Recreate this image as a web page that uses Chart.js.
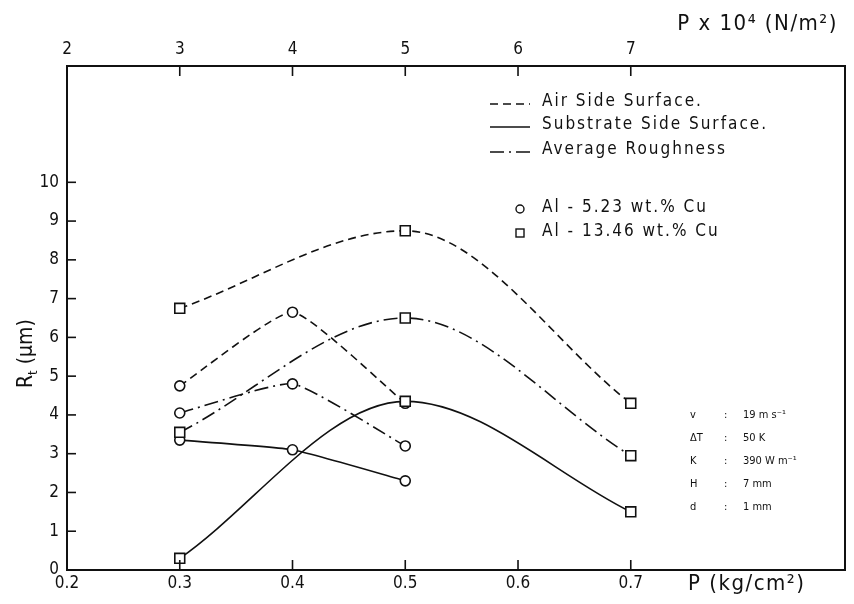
<!DOCTYPE html>
<html>
<head>
<meta charset="utf-8">
<script src="https://cdn.jsdelivr.net/npm/chart.js@4.4.1/dist/chart.umd.min.js"></script>
<style>
  html, body { margin: 0; padding: 0; background: #fff; }
  #wrap { width: 854px; height: 604px; }
</style>
</head>
<body>
<div id="wrap"><canvas id="chart" width="854" height="604"></canvas></div>
<script>
// pressure in kg/cm2
const circleP = [0.3, 0.4, 0.5]
const squareP = [0.3, 0.5, 0.7]

// Al - 5.23 wt.% Cu (circles)
const airCircle = [4.75, 6.65, 4.3]
const subCircle = [3.35, 3.1, 2.3]
const avgCircle = [4.05, 4.8, 3.2]

// Al - 13.46 wt.% Cu (squares)
const airSquare = [6.75, 8.75, 4.3]
const subSquare = [0.3, 4.35, 1.5]
const avgSquare = [3.55, 6.5, 2.95]

const bottomTicks = [0.2, 0.3, 0.4, 0.5, 0.6, 0.7]
const topTicks = [2, 3, 4, 5, 6, 7]
const yTicks = [0, 1, 2, 3, 4, 5, 6, 7, 8, 9, 10]

const legendLines = ["Air Side Surface.", "Substrate Side Surface.", "Average Roughness"]
const legendAlloys = ["Al - 5.23 wt.% Cu", "Al - 13.46 wt.% Cu"]
const params = [["v", "19 m s\u207B\u00B9"], ["\u0394T", "50 K"], ["K", "390 W m\u207B\u00B9"], ["H", "7 mm"], ["d", "1 mm"]]

const FONT = "'DejaVu Sans Condensed', 'DejaVu Sans', sans-serif"
const DASH = [8, 5]
const DASHDOT = [14, 5, 2, 5]

function pts(xs, ys) {
  return xs.map((x, i) => ({ x: x, y: ys[i] }))
}

function series(label, xs, ys, dash, style) {
  const s = {
    label: label,
    data: pts(xs, ys),
    borderColor: "#111",
    borderWidth: 1.6,
    borderDash: dash,
    pointStyle: style,
    pointRadius: style === "rect" ? 7 : 5,
    pointBackgroundColor: "#fff",
    pointBorderColor: "#111",
    pointBorderWidth: 1.6,
    fill: false
  }
  if (style === "rect") s.cubicInterpolationMode = "monotone"
  else s.tension = 0.15
  return s
}

// inward ticks, frame, legend and titles
const decor = {
  id: "decor",
  afterDraw(c) {
    const ctx = c.ctx
    const a = c.chartArea
    const x = c.scales.x
    const y = c.scales.y
    ctx.save()
    ctx.strokeStyle = "#111"
    ctx.fillStyle = "#111"
    ctx.lineWidth = 2
    ctx.setLineDash([])
    ctx.strokeRect(a.left, a.top, a.right - a.left, a.bottom - a.top)

    ctx.lineWidth = 1.6
    yTicks.forEach(v => {
      const py = y.getPixelForValue(v)
      ctx.beginPath(); ctx.moveTo(a.left, py); ctx.lineTo(a.left + 9, py); ctx.stroke()
    })
    bottomTicks.forEach(v => {
      const px = x.getPixelForValue(v)
      ctx.beginPath(); ctx.moveTo(px, a.bottom); ctx.lineTo(px, a.bottom - 10); ctx.stroke()
    })
    bottomTicks.forEach(v => {
      const px = x.getPixelForValue(v)
      ctx.beginPath(); ctx.moveTo(px, a.top); ctx.lineTo(px, a.top + 10); ctx.stroke()
    })

    // axis titles
    ctx.textBaseline = "middle"
    ctx.font = "22px " + FONT
    ctx.letterSpacing = "1.5px"
    ctx.textAlign = "left"
    ctx.fillText("P (kg/cm\u00B2)", 688, 584)
    ctx.textAlign = "right"
    ctx.fillText("P x 10\u2074 (N/m\u00B2)", 838, 24)
    ctx.letterSpacing = "0px"

    ctx.save()
    ctx.translate(27, 340)
    ctx.rotate(-Math.PI / 2)
    ctx.textAlign = "left"
    ctx.font = "21px " + FONT
    ctx.fillText("R", -48, 0)
    let w = ctx.measureText("R").width
    ctx.font = "13px " + FONT
    ctx.fillText("t", -48 + w, 7)
    let w2 = ctx.measureText("t").width
    ctx.font = "21px " + FONT
    ctx.fillText(" (\u03BCm)", -48 + w + w2, 0)
    ctx.restore()

    // legend
    ctx.textAlign = "left"
    ctx.font = "17px " + FONT
    ctx.letterSpacing = "2px"
    const rows = [102, 125, 150]
    const dashes = [DASH, [], DASHDOT]
    rows.forEach((ry, i) => {
      ctx.setLineDash(dashes[i])
      ctx.beginPath(); ctx.moveTo(490, ry + 2); ctx.lineTo(530, ry + 2); ctx.stroke()
      ctx.setLineDash([])
      ctx.fillText(legendLines[i], 542, ry)
    })
    ctx.lineWidth = 1.4
    ctx.beginPath(); ctx.arc(520, 209, 4, 0, Math.PI * 2); ctx.stroke()
    ctx.strokeRect(516, 229, 8, 8)
    ctx.fillText(legendAlloys[0], 542, 208)
    ctx.fillText(legendAlloys[1], 542, 232)

    // parameters
    ctx.letterSpacing = "0px"
    ctx.font = "11px " + FONT
    params.forEach((p, i) => {
      const py = 415 + i * 23
      ctx.fillText(p[0], 690, py)
      ctx.fillText(":", 724, py)
      ctx.fillText(p[1], 743, py)
    })
    ctx.restore()
  }
}

new Chart(document.querySelector("#chart").getContext("2d"), {
  type: "line",
  data: {
    datasets: [
      series("Air Side Surface (Al-13.46)", squareP, airSquare, DASH, "rect"),
      series("Average Roughness (Al-13.46)", squareP, avgSquare, DASHDOT, "rect"),
      series("Substrate Side Surface (Al-13.46)", squareP, subSquare, [], "rect"),
      series("Air Side Surface (Al-5.23)", circleP, airCircle, DASH, "circle"),
      series("Average Roughness (Al-5.23)", circleP, avgCircle, DASHDOT, "circle"),
      series("Substrate Side Surface (Al-5.23)", circleP, subCircle, [], "circle")
    ]
  },
  options: {
    responsive: false,
    animation: false,
    layout: { padding: { right: 9, left: 0, top: 0, bottom: 0 } },
    plugins: { legend: { display: false }, tooltip: { enabled: false } },
    scales: {
      x: {
        type: "linear",
        position: "bottom",
        min: 0.2,
        max: 0.89,
        afterBuildTicks: s => { s.ticks = bottomTicks.map(v => ({ value: v })) },
        afterFit: s => { s.height = 34 },
        grid: { display: false, drawTicks: false },
        border: { display: false },
        ticks: { color: "#111", padding: 3, font: { family: FONT, size: 17 }, callback: v => v.toFixed(1) }
      },
      x2: {
        type: "linear",
        position: "top",
        min: 0.2,
        max: 0.89,
        afterBuildTicks: s => { s.ticks = bottomTicks.map(v => ({ value: v })) },
        afterFit: s => { s.height = 66 },
        grid: { display: false, drawTicks: false },
        border: { display: false },
        ticks: { color: "#111", padding: 6, font: { family: FONT, size: 17 }, callback: v => Math.round(v * 10) }
      },
      y: {
        type: "linear",
        min: 0,
        max: 13,
        afterBuildTicks: s => { s.ticks = yTicks.map(v => ({ value: v })) },
        afterFit: s => { s.width = 67 },
        grid: { display: false, drawTicks: false },
        border: { display: false },
        ticks: { color: "#111", padding: 8, font: { family: FONT, size: 17 } }
      }
    }
  },
  plugins: [decor]
})
</script>
</body>
</html>
